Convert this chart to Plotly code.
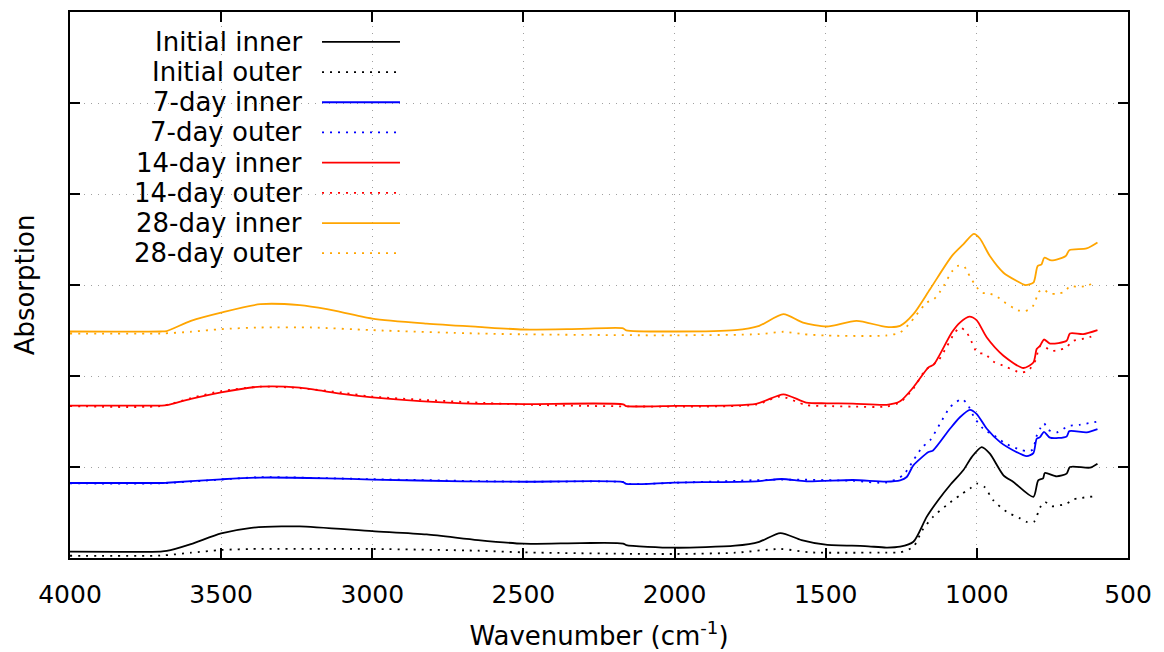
import plotly.graph_objects as go

# ---------------- data (wavenumber cm^-1, absorption a.u.) ----------------
init_in_wn = [4000, 3700, 3680, 3600, 3500, 3400, 3300, 3240, 3000, 2820, 2650, 2500, 2310, 2170, 2160, 2000,
              1800, 1720, 1650, 1580, 1500, 1370, 1300, 1254, 1210, 1166, 1128, 1089, 1045, 1017, 984, 957,
              912, 879, 813, 797, 781, 775, 736, 703, 692, 626, 601]
init_in_ab = [0.069, 0.071, 0.077, 0.153, 0.270, 0.332, 0.347, 0.347, 0.296, 0.259, 0.197, 0.157, 0.164, 0.159, 0.142, 0.113,
              0.135, 0.178, 0.274, 0.197, 0.146, 0.131, 0.115, 0.124, 0.178, 0.452, 0.635, 0.799, 0.964, 1.109, 1.219, 1.146,
              0.909, 0.835, 0.671, 0.854, 0.876, 0.934, 0.898, 0.927, 1.000, 0.993, 1.037]

init_out_wn = [4000, 3700, 3600, 3500, 3400, 3000, 2650, 2500, 2000, 1800, 1650, 1550, 1300, 1254, 1210, 1180,
               1145, 1100, 1056, 1023, 1001, 975, 946, 901, 857, 835, 811, 791, 775, 753, 703, 681, 609]
init_out_ab = [0.025, 0.027, 0.058, 0.088, 0.099, 0.099, 0.080, 0.062, 0.044, 0.058, 0.099, 0.062, 0.060, 0.062, 0.124, 0.307,
               0.452, 0.580, 0.690, 0.763, 0.818, 0.781, 0.635, 0.507, 0.435, 0.397, 0.397, 0.555, 0.616, 0.569, 0.599, 0.643, 0.679]

d7_in_wn = [4000, 3700, 3680, 3500, 3370, 3150, 3000, 2700, 2500, 2170, 2160, 2000, 1730, 1646, 1563, 1410,
            1300, 1254, 1232, 1210, 1160, 1145, 1089, 1056, 1023, 1001, 967, 923, 879, 835, 813, 802,
            791, 778, 758, 703, 694, 637, 601]
d7_in_ab = [0.824, 0.824, 0.827, 0.865, 0.884, 0.876, 0.862, 0.843, 0.838, 0.835, 0.814, 0.829, 0.843, 0.868, 0.843, 0.857,
            0.840, 0.854, 0.890, 1.018, 1.164, 1.182, 1.420, 1.547, 1.628, 1.584, 1.420, 1.273, 1.182, 1.120, 1.153, 1.311,
            1.328, 1.387, 1.322, 1.336, 1.394, 1.380, 1.416]

d7_out_wn = [4000, 3700, 3500, 3370, 3000, 2500, 2170, 2160, 2000, 1646, 1410, 1300, 1244, 1210, 1180, 1155,
             1122, 1089, 1069, 1050, 1032, 1006, 973, 951, 907, 857, 835, 815, 804, 791, 778, 764,
             736, 698, 660, 605]
d7_out_ab = [0.821, 0.821, 0.862, 0.888, 0.866, 0.838, 0.833, 0.815, 0.826, 0.862, 0.848, 0.829, 0.909, 1.073, 1.219, 1.292,
             1.475, 1.657, 1.711, 1.749, 1.694, 1.530, 1.401, 1.365, 1.262, 1.190, 1.175, 1.190, 1.328, 1.420, 1.481, 1.409,
             1.380, 1.449, 1.464, 1.497]

d14_in_wn = [4000, 3700, 3680, 3600, 3500, 3370, 3240, 3100, 3000, 2700, 2500, 2170, 2160, 2000, 1730, 1640,
             1565, 1497, 1410, 1298, 1254, 1210, 1160, 1143, 1083, 1056, 1025, 1001, 967, 912, 846, 813,
             802, 791, 778, 758, 703, 692, 648, 601]
d14_in_ab = [1.675, 1.675, 1.679, 1.749, 1.821, 1.883, 1.872, 1.803, 1.766, 1.700, 1.692, 1.689, 1.670, 1.672, 1.694, 1.799,
             1.708, 1.700, 1.697, 1.683, 1.722, 1.876, 2.095, 2.124, 2.478, 2.587, 2.653, 2.614, 2.423, 2.223, 2.088, 2.149,
             2.296, 2.332, 2.401, 2.357, 2.387, 2.467, 2.460, 2.504]

d14_out_wn = [4000, 3700, 3600, 3500, 3370, 3240, 3100, 3000, 2500, 2000, 1730, 1650, 1565, 1497, 1410, 1300,
              1254, 1210, 1170, 1128, 1100, 1074, 1056, 1036, 1023, 999, 973, 946, 904, 857, 830, 804,
              794, 778, 756, 728, 703, 686, 637, 613]
d14_out_ab = [1.670, 1.670, 1.757, 1.834, 1.883, 1.867, 1.818, 1.774, 1.686, 1.664, 1.686, 1.774, 1.681, 1.670, 1.664, 1.664,
              1.711, 1.861, 2.066, 2.168, 2.321, 2.471, 2.533, 2.489, 2.417, 2.259, 2.241, 2.160, 2.102, 2.040, 2.058, 2.187,
              2.321, 2.329, 2.277, 2.288, 2.314, 2.379, 2.417, 2.442]

d28_in_wn = [4000, 3700, 3680, 3600, 3500, 3370, 3240, 3150, 3000, 2820, 2650, 2500, 2310, 2170, 2160, 2000,
             1800, 1720, 1640, 1575, 1497, 1398, 1300, 1254, 1210, 1155, 1083, 1045, 1010, 990, 957, 912,
             868, 841, 813, 799, 786, 777, 753, 706, 694, 637, 601]
d28_in_ab = [2.489, 2.489, 2.494, 2.606, 2.697, 2.789, 2.778, 2.734, 2.631, 2.576, 2.540, 2.511, 2.518, 2.524, 2.502, 2.489,
             2.504, 2.551, 2.679, 2.587, 2.544, 2.606, 2.540, 2.551, 2.679, 2.953, 3.318, 3.446, 3.562, 3.511, 3.318, 3.135,
             3.044, 3.000, 3.025, 3.208, 3.227, 3.299, 3.270, 3.318, 3.383, 3.402, 3.467]

d28_out_wn = [4000, 3700, 3600, 3500, 3370, 3200, 3000, 2650, 2500, 2000, 1720, 1640, 1575, 1500, 1300, 1254,
              1220, 1200, 1166, 1142, 1124, 1110, 1083, 1065, 1043, 1030, 1016, 1001, 983, 957, 932, 910,
              865, 840, 818, 805, 797, 780, 760, 736, 709, 692, 670, 645, 617]
d28_out_ab = [2.467, 2.467, 2.486, 2.515, 2.533, 2.533, 2.504, 2.467, 2.458, 2.447, 2.460, 2.486, 2.460, 2.445, 2.445, 2.478,
              2.587, 2.672, 2.806, 2.843, 2.916, 2.989, 3.146, 3.208, 3.208, 3.135, 3.055, 2.978, 2.916, 2.905, 2.869, 2.814,
              2.723, 2.715, 2.752, 2.836, 2.920, 2.953, 2.905, 2.905, 2.927, 2.989, 2.981, 2.986, 3.014]

series_names = ["Initial inner", "Initial outer", "7-day inner", "7-day outer",
                "14-day inner", "14-day outer", "28-day inner", "28-day outer"]
series_wn = [init_in_wn, init_out_wn, d7_in_wn, d7_out_wn, d14_in_wn, d14_out_wn, d28_in_wn, d28_out_wn]
series_ab = [init_in_ab, init_out_ab, d7_in_ab, d7_out_ab, d14_in_ab, d14_out_ab, d28_in_ab, d28_out_ab]
series_colors = ["#000000", "#000000", "#0000ff", "#0000ff", "#ff0000", "#ff0000", "#ffa500", "#ffa500"]
series_dash = ["solid", "2px,6px", "solid", "2px,6px", "solid", "2px,6px", "solid", "2px,6px"]

x_ticks = [4000, 3500, 3000, 2500, 2000, 1500, 1000, 500]
y_ticks = [1, 2, 3, 4, 5]

FONT = "DejaVu Sans"

fig = go.Figure()
for name, wn, ab, col, dsh in zip(series_names, series_wn, series_ab, series_colors, series_dash):
    fig.add_trace(go.Scatter(x=wn, y=ab, mode="lines", name=name, showlegend=False,
                             line=dict(color=col, width=1.8, dash=dsh, shape="spline", smoothing=0.7)))

# legend, drawn gnuplot-style (text right-aligned, sample on the right)
shapes = [dict(type="rect", xref="paper", yref="paper", x0=0.014, x1=0.323, y0=0.529, y1=0.99,
               fillcolor="white", line=dict(width=0), layer="between")]
annotations = []
row_y0 = 40.0
row_step = 30.3
plot_h = 548.0
for i, (name, col, dsh) in enumerate(zip(series_names, series_colors, series_dash)):
    py = row_y0 + i * row_step
    yp = (plot_h - (py - 10.0)) / plot_h
    annotations.append(dict(text=name, xref="paper", yref="paper", x=0.2212, y=yp, xanchor="right",
                            yanchor="middle", showarrow=False, font=dict(family=FONT, size=26, color="black")))
    shapes.append(dict(type="line", xref="paper", yref="paper", x0=0.2382, x1=0.3119, y0=yp, y1=yp,
                       line=dict(color=col, width=1.8, dash=dsh), layer="above"))

# page has an 8px body margin: size the figure so the plot area lands where the reference has it
fig.update_layout(
    width=1156, height=644,
    margin=dict(l=62, r=36, t=2, b=94),
    plot_bgcolor="white", paper_bgcolor="white",
    font=dict(family=FONT, size=25, color="black"),
    shapes=shapes, annotations=annotations,
    showlegend=False,
)
fig.update_xaxes(range=[4000, 500], tickvals=x_ticks, ticktext=[str(v) for v in x_ticks],
                 ticks="inside", ticklen=10, tickwidth=1.5, tickcolor="black",
                 showline=True, linecolor="black", linewidth=2, mirror="ticks",
                 showgrid=True, gridcolor="#a0a0a0", gridwidth=1, griddash="1px,6px",
                 zeroline=False, tickfont=dict(family=FONT, size=25), ticklabelstandoff=13,
                 title=dict(text="Wavenumber (cm<sup>-1</sup>)", font=dict(family=FONT, size=26), standoff=19))
fig.update_yaxes(range=[0, 6], tickvals=y_ticks, showticklabels=False,
                 ticks="inside", ticklen=10, tickwidth=1.5, tickcolor="black",
                 showline=True, linecolor="black", linewidth=2, mirror="ticks",
                 showgrid=True, gridcolor="#a0a0a0", gridwidth=1, griddash="1px,6px",
                 zeroline=False,
                 title=dict(text="Absorption", font=dict(family=FONT, size=26), standoff=26))

fig.write_html("out.html")
